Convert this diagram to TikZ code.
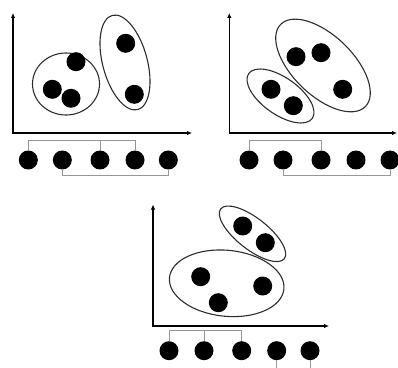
\documentclass[tikz,border=0pt]{standalone}
\usetikzlibrary{arrows.meta}
\definecolor{linkgray}{RGB}{150,150,150}
\definecolor{ringgray}{RGB}{45,45,45}

\begin{document}
\begin{tikzpicture}[
    x=1pt, y=1pt,
    dot/.style={circle, fill=black, inner sep=0pt, minimum size=19pt},
    axes/.style={{Latex[length=5pt, width=4.5pt]}-{Latex[length=5pt, width=4.5pt]}, line width=1.4pt},
    group/.style={line width=1.1pt, draw=ringgray},
    link/.style={line width=1pt, draw=linkgray},
]
\useasboundingbox (0,0) rectangle (398,367);

% === PANEL 1: round group + tall group ===
\draw[axes] (13,354) |- (192,234);
\draw[group] (66,283) ellipse [x radius=33.5, y radius=31];
\draw[group, rotate around={-74.9:(125,304.5)}] (125,304.5) ellipse [x radius=48.8, y radius=22.3];

\node[dot] (p1) at (76,305.3) {};
\node[dot] (p2) at (52.3,277.7) {};
\node[dot] (p3) at (71,268.7) {};
\node[dot] (p4) at (125.7,323.7) {};
\node[dot] (p5) at (134.3,272.7) {};

\node[dot] (a1) at (28.3,207) {};
\node[dot] (a2) at (62.3,207) {};
\node[dot] (a3) at (100,207) {};
\node[dot] (a4) at (135,207) {};
\node[dot] (a5) at (168.3,207) {};

\draw[link] (a1.north) -- ++(0,9.5) -| (a4.north);
\draw[link] (a3.north) -- ++(0,9.5);
\draw[link] (a2.south) -- ++(0,-6.2) -| (a5.south);

% === PANEL 2: two tilted groups ===
\draw[axes] (229.3,354) |- (397,234);
\draw[group, rotate around={-44:(323,301.5)}] (323,301.5) ellipse [x radius=59, y radius=30];
\draw[group, rotate around={-35.2:(280.5,271)}] (280.5,271) ellipse [x radius=38.9, y radius=18.4];

\node[dot] (q1) at (296,310.3) {};
\node[dot] (q2) at (321,314.3) {};
\node[dot] (q3) at (342.7,277.7) {};
\node[dot] (q4) at (271,277.7) {};
\node[dot] (q5) at (293.3,261.3) {};

\node[dot] (b1) at (249,207) {};
\node[dot] (b2) at (283,207) {};
\node[dot] (b3) at (321,207) {};
\node[dot] (b4) at (356,207) {};
\node[dot] (b5) at (390,207) {};

\draw[link] (b1.north) -- ++(0,9.5) -| (b3.north);
\draw[link] (b2.south) -- ++(0,-6.2) -| (b5.south);

% === PANEL 3: small group above, wide group below ===
\draw[axes] (153,162.5) |- (329,41);
\draw[group, rotate around={-38.1:(252.5,133.2)}] (252.5,133.2) ellipse [x radius=40.4, y radius=15.6];
\draw[group, rotate around={-5.8:(226.7,83.7)}] (226.7,83.7) ellipse [x radius=57.5, y radius=33];

\node[dot] (r1) at (242.7,141) {};
\node[dot] (r2) at (265.3,124.3) {};
\node[dot] (r3) at (200.7,90.3) {};
\node[dot] (r4) at (218.3,64.3) {};
\node[dot] (r5) at (262.7,81) {};

\node[dot] (c1) at (169,16.3) {};
\node[dot] (c2) at (204,16.3) {};
\node[dot] (c3) at (241.7,16.3) {};
\node[dot] (c4) at (276.7,16.3) {};
\node[dot] (c5) at (310,16.3) {};

\draw[link] (c1.north) -- ++(0,11) -| (c3.north);
\draw[link] (c2.north) -- ++(0,11);
\draw[link] (c4.south) -- ++(0,-10);
\draw[link] (c5.south) -- ++(0,-10);

\end{tikzpicture}
\end{document}
